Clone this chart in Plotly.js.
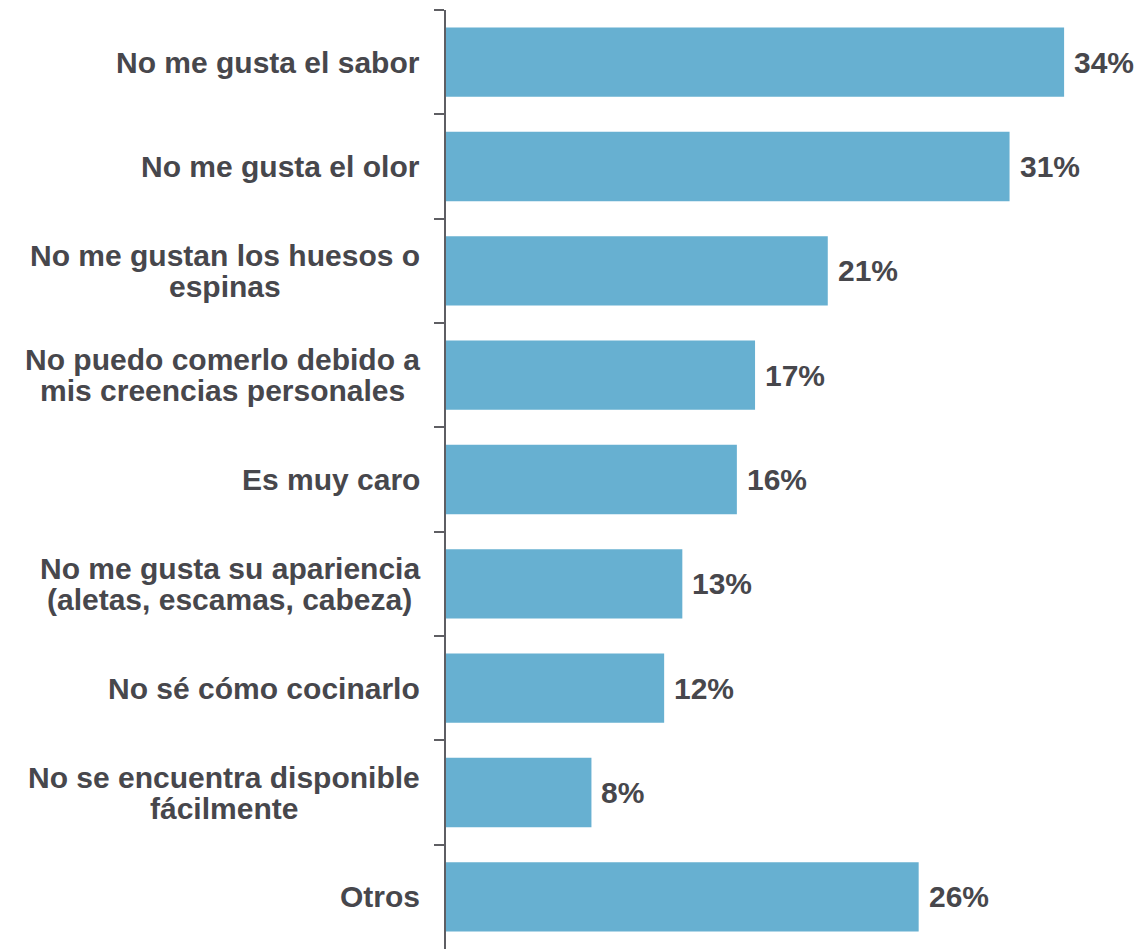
<!DOCTYPE html>
<html>
<head>
<meta charset="utf-8">
<script src="https://cdn.plot.ly/plotly-3.0.1.min.js"></script>
<style>
  html, body { margin: 0; padding: 0; background: #fff; }
  #chart { width: 1139px; height: 949px; }
</style>
</head>
<body>
<div id="chart"></div>
<script>
// ---- Data ----
const categories = [
  "No me gusta el sabor",
  "No me gusta el olor",
  "No me gustan los huesos o<br>espinas",
  "No puedo comerlo debido a<br>mis creencias personales",
  "Es muy caro",
  "No me gusta su apariencia<br>(aletas, escamas, cabeza)",
  "No sé cómo cocinarlo",
  "No se encuentra disponible<br>fácilmente",
  "Otros"
];
const values = [34, 31, 21, 17, 16, 13, 12, 8, 26];
const valueLabels = ["34%", "31%", "21%", "17%", "16%", "13%", "12%", "8%", "26%"];

// ---- Styles ----
const FONT = '"Liberation Sans", Arial, sans-serif';
const TEXT_COLOR = '#47474C';
const BAR_COLOR = '#67B0D1';
const AXIS_COLOR = '#5E5E63';
const FS = 30;
const LINE_H = 31;

const canvas = document.createElement('canvas');
const ctx = canvas.getContext('2d');
ctx.font = 'bold ' + FS + 'px "Liberation Sans", Arial, sans-serif';

const annotations = [];
categories.forEach((cat, i) => {
  const lines = cat.split('<br>');
  const widths = lines.map(l => ctx.measureText(l).width);
  const maxW = Math.max(...widths);
  lines.forEach((line, j) => {
    annotations.push({
      xref: 'paper', yref: 'y',
      x: 0, y: cat,
      xanchor: 'center', yanchor: 'middle',
      xshift: -26 - maxW / 2,
      yshift: ((lines.length - 1) / 2 - j) * LINE_H,
      text: line, showarrow: false,
      font: { family: FONT, size: FS, color: TEXT_COLOR, weight: 'bold' }
    });
  });
  annotations.push({
    xref: 'x', yref: 'y',
    x: values[i], y: cat,
    xanchor: 'left', yanchor: 'middle',
    xshift: 8,
    text: valueLabels[i], showarrow: false,
    font: { family: FONT, size: FS, color: TEXT_COLOR, weight: 'bold' }
  });
});

const trace = {
  type: 'bar',
  orientation: 'h',
  x: values,
  y: categories,
  marker: { color: BAR_COLOR },
  hoverinfo: 'skip'
};

const layout = {
  width: 1139, height: 949,
  margin: { l: 446, r: 0, t: 10, b: 0 },
  paper_bgcolor: '#ffffff', plot_bgcolor: '#ffffff',
  showlegend: false,
  bargap: 0.335,
  font: { family: FONT, color: TEXT_COLOR },
  xaxis: { range: [0, 38.12], visible: false, fixedrange: true },
  yaxis: {
    type: 'category',
    autorange: 'reversed',
    showticklabels: false,
    ticks: 'outside', tickson: 'boundaries', ticklen: 10, tickwidth: 2,
    tickcolor: AXIS_COLOR,
    showline: true, linecolor: AXIS_COLOR, linewidth: 2,
    showgrid: false, zeroline: false, fixedrange: true
  },
  annotations: annotations
};

Plotly.newPlot('chart', [trace], layout, { displayModeBar: false, staticPlot: true });
</script>
</body>
</html>
